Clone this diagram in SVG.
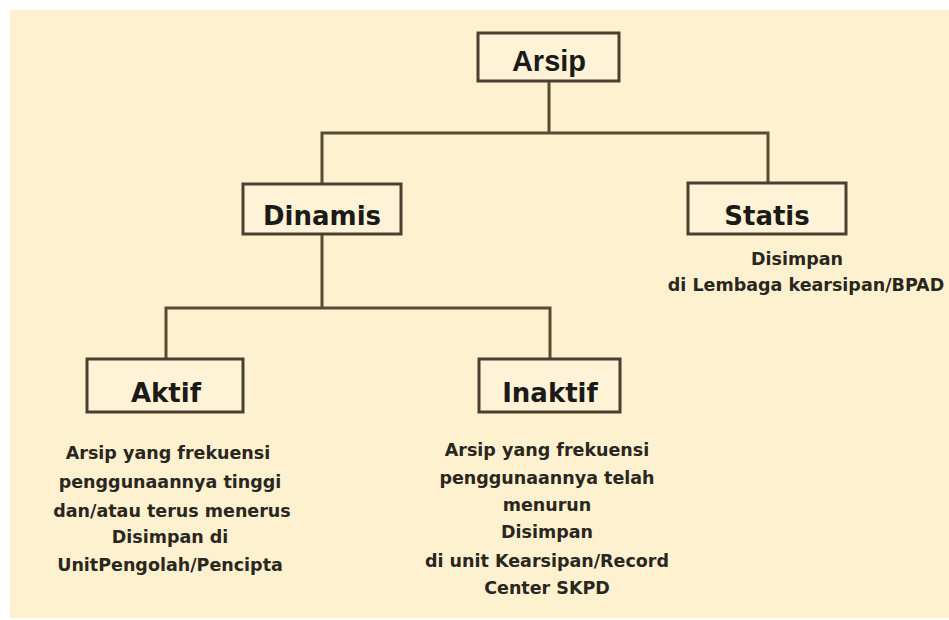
<svg xmlns="http://www.w3.org/2000/svg" width="949" height="620" viewBox="0 0 949 620">
  <defs>
    <style>
      .box { fill: #fef3d6; stroke: #4a4030; stroke-width: 3; }
      .link { fill: none; stroke: #574c35; stroke-width: 3; }
      .label { font-family: "DejaVu Sans", "Liberation Sans", sans-serif; font-weight: bold; font-size: 26px; fill: #1c1a16; text-anchor: middle; }
      .root { font-family: "Liberation Sans", "DejaVu Sans", sans-serif; font-weight: bold; font-size: 29px; fill: #1c1a16; text-anchor: middle; }
      .note { font-family: "DejaVu Sans", "Liberation Sans", sans-serif; font-weight: bold; font-size: 17.5px; fill: #2a2620; text-anchor: middle; }
    </style>
  </defs>

  <!-- page -->
  <rect x="0" y="0" width="949" height="620" fill="#ffffff"/>
  <rect x="10" y="10" width="939" height="608" fill="#fef1cf"/>

  <!-- connectors -->
  <g id="connectors">
    <path class="link" d="M549 81 V133 M322 183 V133 H768 V183"/>
    <path class="link" d="M322 234 V308 M166 359 V308 H550 V359"/>
  </g>

  <g id="arsip">
    <rect class="box" x="478" y="33" width="141" height="48"/>
    <text class="root" x="549" y="71">Arsip</text>
  </g>

  <g id="dinamis">
    <rect class="box" x="243" y="184" width="158" height="50"/>
    <text class="label" x="322" y="225">Dinamis</text>
  </g>

  <g id="statis">
    <rect class="box" x="688" y="183" width="158" height="51"/>
    <text class="label" x="767" y="225">Statis</text>
    <text class="note" x="797" y="265">Disimpan</text>
    <text class="note" x="806" y="291">di Lembaga kearsipan/BPAD</text>
  </g>

  <g id="aktif">
    <rect class="box" x="87" y="359" width="156" height="53"/>
    <text class="label" x="166" y="402">Aktif</text>
    <text class="note" x="168" y="459">Arsip yang frekuensi</text>
    <text class="note" x="170" y="488">penggunaannya tinggi</text>
    <text class="note" x="172" y="517">dan/atau terus menerus</text>
    <text class="note" x="170" y="543">Disimpan di</text>
    <text class="note" x="170" y="571">UnitPengolah/Pencipta</text>
  </g>

  <g id="inaktif">
    <rect class="box" x="479" y="359" width="141" height="53"/>
    <text class="label" x="550" y="402">Inaktif</text>
    <text class="note" x="547" y="456">Arsip yang frekuensi</text>
    <text class="note" x="547" y="484">penggunaannya telah</text>
    <text class="note" x="547" y="511">menurun</text>
    <text class="note" x="547" y="538">Disimpan</text>
    <text class="note" x="547" y="567">di unit Kearsipan/Record</text>
    <text class="note" x="547" y="594">Center SKPD</text>
  </g>
</svg>
